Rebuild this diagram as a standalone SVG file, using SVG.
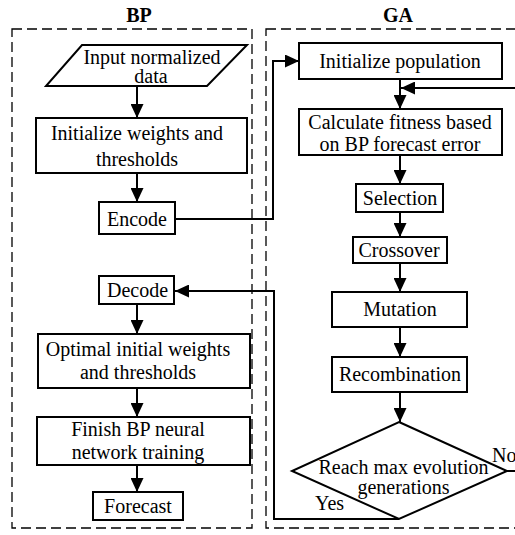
<svg xmlns="http://www.w3.org/2000/svg" width="515" height="535" viewBox="0 0 515 535">
<style>
text{font-family:"Liberation Serif","Times New Roman",serif;font-size:20px;fill:#000;text-anchor:middle}
.title{font-weight:bold}
.lbl{text-anchor:start}
.node{fill:#fff;stroke:#000;stroke-width:2}
.frame{fill:none;stroke:#000;stroke-width:1.3;stroke-dasharray:10,5}
.conn{fill:none;stroke:#000;stroke-width:2}
</style>
<defs>
<marker id="arr" markerUnits="userSpaceOnUse" viewBox="0 0 14 13" refX="14" refY="6.5" markerWidth="14" markerHeight="13" orient="auto">
<path d="M0,0 L14,6.5 L0,13 Z" fill="#000"/>
</marker>
</defs>
<rect fill="#fff" x="0" y="0" width="515" height="535"/>
<g id="frames">
<rect class="frame" x="12" y="29" width="240" height="499"/>
<rect class="frame" x="266" y="29" width="262" height="499"/>
<text class="title" x="139" y="22">BP</text>
<text class="title" x="398" y="22">GA</text>
</g>
<g id="connectors">
<line class="conn" x1="137" y1="86" x2="137" y2="118" marker-end="url(#arr)"/>
<line class="conn" x1="137" y1="173" x2="137" y2="202" marker-end="url(#arr)"/>
<polyline class="conn" points="175,219 273,219 273,61 299,61" marker-end="url(#arr)"/>
<line class="conn" x1="400" y1="79" x2="400" y2="109" marker-end="url(#arr)"/>
<polyline class="conn" points="507,471 520,471 520,88 401,88" marker-end="url(#arr)"/>
<line class="conn" x1="400" y1="155" x2="400" y2="184" marker-end="url(#arr)"/>
<line class="conn" x1="400" y1="212" x2="400" y2="237" marker-end="url(#arr)"/>
<line class="conn" x1="400" y1="263" x2="400" y2="292" marker-end="url(#arr)"/>
<line class="conn" x1="400" y1="327" x2="400" y2="357" marker-end="url(#arr)"/>
<line class="conn" x1="400" y1="392" x2="400" y2="422" marker-end="url(#arr)"/>
<polyline class="conn" points="399,519 274,519 274,291 175,291" marker-end="url(#arr)"/>
<line class="conn" x1="137" y1="304" x2="137" y2="334" marker-end="url(#arr)"/>
<line class="conn" x1="137" y1="388" x2="137" y2="417" marker-end="url(#arr)"/>
<line class="conn" x1="137" y1="465" x2="137" y2="492" marker-end="url(#arr)"/>
<text class="lbl" x="492" y="462">No</text>
<text class="lbl" x="315" y="510">Yes</text>
</g>
<g id="input">
<polygon class="node" points="82,45 247,45 207,86 46,86"/>
<text x="152" y="64">Input normalized</text>
<text x="151" y="83">data</text>
</g>
<g id="initweights">
<rect class="node" x="36" y="118" width="211" height="55"/>
<text x="137" y="140">Initialize weights and</text>
<text x="137" y="166">thresholds</text>
</g>
<g id="encode">
<rect class="node" x="99" y="202" width="76" height="32"/>
<text x="137" y="226">Encode</text>
</g>
<g id="decode">
<rect class="node" x="99" y="276" width="75" height="28"/>
<text x="137.5" y="297">Decode</text>
</g>
<g id="optimal">
<rect class="node" x="38" y="334" width="212" height="54"/>
<text x="138" y="356">Optimal initial weights</text>
<text x="138" y="379">and thresholds</text>
</g>
<g id="finish">
<rect class="node" x="37" y="417" width="213" height="48"/>
<text x="138" y="436">Finish BP neural</text>
<text x="138" y="459">network training</text>
</g>
<g id="forecast">
<rect class="node" x="93" y="492" width="90" height="28"/>
<text x="138" y="513">Forecast</text>
</g>
<g id="initpop">
<rect class="node" x="299" y="43" width="203" height="36"/>
<text x="400" y="68">Initialize population</text>
</g>
<g id="fitness">
<rect class="node" x="299" y="109" width="203" height="46"/>
<text x="400" y="129">Calculate fitness based</text>
<text x="400" y="151">on BP forecast error</text>
</g>
<g id="selection">
<rect class="node" x="356" y="184" width="87" height="28"/>
<text x="400" y="205">Selection</text>
</g>
<g id="crossover">
<rect class="node" x="353" y="237" width="94" height="26"/>
<text x="399" y="257">Crossover</text>
</g>
<g id="mutation">
<rect class="node" x="332" y="292" width="135" height="35"/>
<text x="400" y="316">Mutation</text>
</g>
<g id="recombination">
<rect class="node" x="332" y="357" width="135" height="35"/>
<text x="400" y="381">Recombination</text>
</g>
<g id="decision">
<polygon class="node" points="399,422 507,471 399,519 292,471"/>
<text x="403.5" y="474">Reach max evolution</text>
<text x="403.5" y="494">generations</text>
</g>
</svg>
